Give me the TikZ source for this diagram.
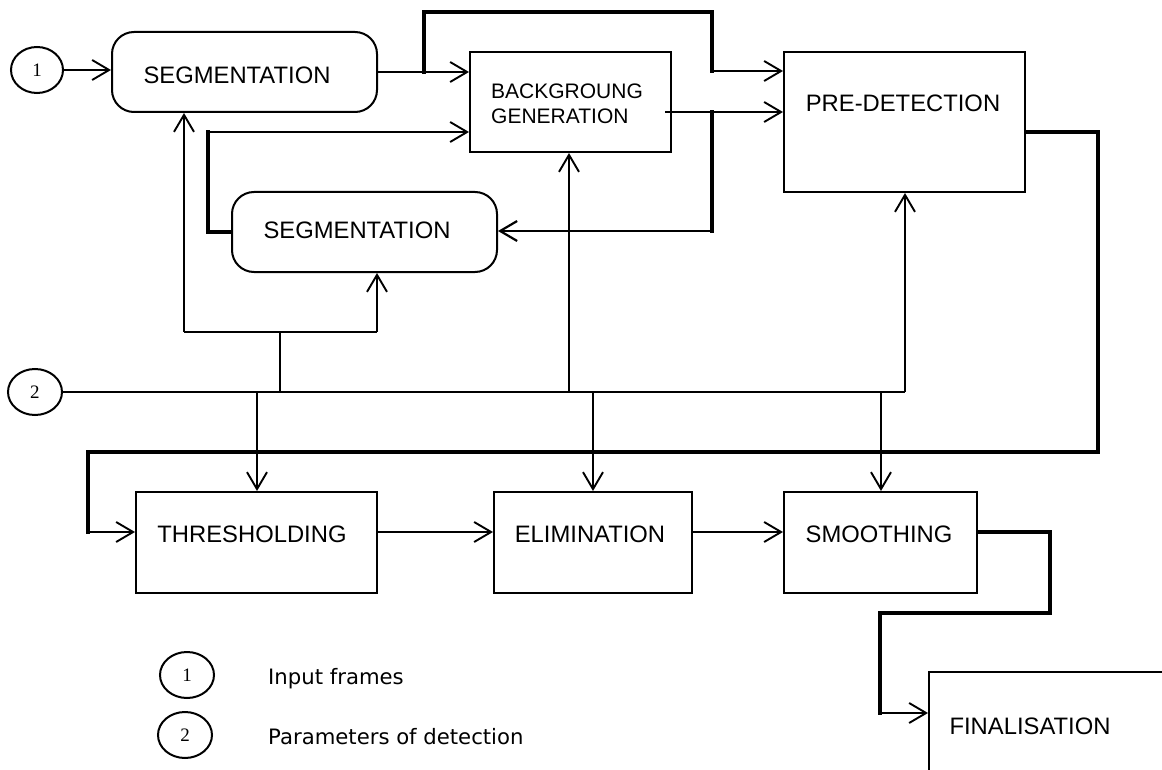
\documentclass[tikz,border=0pt]{standalone}
\usepackage{fontspec}
\setmainfont{Liberation Sans}
\newfontfamily\numfamily{Liberation Serif}
\newfontfamily\legfamily{DejaVu Sans}
\usetikzlibrary{arrows.meta,shapes.geometric}
\newcommand{\boxfont}{\fontsize{23.8pt}{28pt}\selectfont}
\newcommand{\bgfont}{\fontsize{21pt}{25pt}\selectfont}
\newcommand{\numfont}{\numfamily\fontsize{19pt}{22pt}\selectfont}
\newcommand{\legfont}{\legfamily\fontsize{21.2pt}{25pt}\selectfont}
\tikzset{
  ln/.style={line width=1.9pt},
  bus/.style={line width=2.3pt},
  arr/.style={ln, -{Straight Barb[length=17pt,width=20pt]}},
  thk/.style={line width=4.7pt, line cap=rect, line join=miter},
  boxr/.style={draw, line width=2pt, rectangle, inner sep=0pt},
  rbox/.style={boxr, rounded corners=22pt},
  circ/.style={draw, ellipse, line width=2pt, inner sep=0pt, minimum width=52pt, minimum height=46pt, font=\numfont},
  lbl/.style={font=\boxfont, inner sep=0pt, anchor=base},
  leg/.style={font=\legfont, inner sep=0pt, anchor=base west},
}
\begin{document}
\begin{tikzpicture}[x=1pt,y=-1pt]
\useasboundingbox (0,0) rectangle (1162,770);
\clip (0,0) rectangle (1162,770);
\fill[white] (0,0) rectangle (1162,770);

% boxes
\node[circ] (c1) at (37,70) {1};
\node[rbox, minimum width=265pt, minimum height=80pt] (segA) at (244.5,72) {};
\node[boxr, minimum width=201pt, minimum height=100pt] (bg) at (570.5,102) {};
\node[boxr, minimum width=241pt, minimum height=140pt] (pd) at (904.5,122) {};
\node[rbox, minimum width=265pt, minimum height=80pt] (segB) at (364.5,232) {};
\node[circ, minimum width=54pt] (c2) at (35,392) {2};
\node[boxr, minimum width=241pt, minimum height=101pt] (th) at (256.5,542.5) {};
\node[boxr, minimum width=198pt, minimum height=101pt] (el) at (593,542.5) {};
\node[boxr, minimum width=193pt, minimum height=101pt] (sm) at (880.5,542.5) {};
\node[boxr, minimum width=300pt, minimum height=160pt] (fin) at (1079,752) {};

% texts
\node[lbl] (tSegA) at (237,83.3) {SEGMENTATION};
\node[lbl] (tSegB) at (357,239) {SEGMENTATION};
\node[font=\bgfont, inner sep=0pt, anchor=base west] (tBg1) at (491,98.3) {BACKGROUNG};
\node[font=\bgfont, inner sep=0pt, anchor=base west] (tBg2) at (491,123.3) {GENERATION};
\node[lbl] (tPd) at (903,112) {PRE-DETECTION};
\node[lbl] (tTh) at (252,542) {THRESHOLDING};
\node[lbl] (tEl) at (590,542) {ELIMINATION};
\node[lbl] (tSm) at (879,542) {SMOOTHING};
\node[lbl] (tFin) at (1030,734) {FINALISATION};

% legend
\node[circ, minimum width=54pt] (lc1) at (187,675) {1};
\node[circ, minimum width=54pt] (lc2) at (185,735) {2};
\node[leg] (tl1) at (268,684) {Input frames};
\node[leg] (tl2) at (268,744) {Parameters of detection};

% coordinates
\coordinate (a1) at (424,72);
\coordinate (a2) at (424,12);
\coordinate (a3) at (712,12);
\coordinate (a4) at (712,71);
\coordinate (b1) at (665,112);
\coordinate (b2) at (712,112);
\coordinate (b3) at (712,231);
\coordinate (d1) at (208,232);
\coordinate (d2) at (208,132);
\coordinate (e1) at (184,332);
\coordinate (e2) at (377,332);
\coordinate (e3) at (280,332);
\coordinate (e4) at (280,392);
\coordinate (f1) at (905,392);
\coordinate (g1) at (569,392);
\coordinate (h1) at (257,392);
\coordinate (h2) at (593,392);
\coordinate (h3) at (881,392);
\coordinate (k1) at (1098,132);
\coordinate (k2) at (1098,452);
\coordinate (k3) at (88,452);
\coordinate (k4) at (88,532);
\coordinate (n1) at (1050,532);
\coordinate (n2) at (1050,613);
\coordinate (n3) at (880,613);
\coordinate (n4) at (880,713);

% connectors
\draw[arr] (c1.east) -- (c1.east -| segA.west);
\draw[arr] (segA.east) -- (segA.east -| bg.west);
\draw[thk] (a1) -- (a2) -- (a3) -- (a4);
\draw[arr] (a4) -- (a4 -| pd.west);
\draw[arr] (b1) -- (b1 -| pd.west);
\draw[thk] (b2) -- (b3);
\draw[arr, line width=2.2pt] (b3) -- (b3 -| segB.east);
\draw[thk] (segB.west) -- (d1) -- (d2);
\draw[arr] (d2) -- (d2 -| bg.west);

\draw[bus] (e1) -- (e2);
\draw[arr] (e1) -- (e1 |- segA.south);
\draw[arr] (e2) -- (e2 |- segB.south);
\draw[bus] (e3) -- (e4);

\draw[bus] (c2.east) -- (f1);
\draw[arr] (f1) -- (f1 |- pd.south);
\draw[arr] (g1) -- (g1 |- bg.south);
\draw[arr] (h1) -- (h1 |- th.north);
\draw[arr] (h2) -- (h2 |- el.north);
\draw[arr] (h3) -- (h3 |- sm.north);

\draw[thk] (k1 -| pd.east) -- (k1) -- (k2) -- (k3) -- (k4);
\draw[arr] (k4) -- (k4 -| th.west);
\draw[arr] (th.east |- k4) -- (el.west |- k4);
\draw[arr] (el.east |- k4) -- (sm.west |- k4);
\draw[thk] (sm.east |- n1) -- (n1) -- (n2) -- (n3) -- (n4);
\draw[arr] (n4) -- (n4 -| fin.west);
\end{tikzpicture}
\end{document}
